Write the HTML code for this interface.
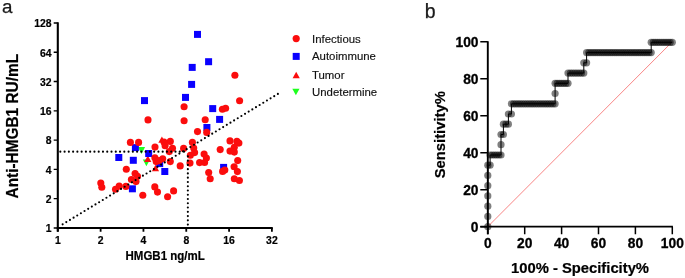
<!DOCTYPE html>
<html><head><meta charset="utf-8"><title>figure</title>
<style>
html,body{margin:0;padding:0;background:#fff;}
body{width:685px;height:278px;overflow:hidden;}
svg{display:block;font-family:"Liberation Sans",sans-serif;}
.b{font-weight:bold;fill:#000;}
</style></head><body>
<svg width="685" height="278" viewBox="0 0 685 278">
<rect width="685" height="278" fill="#fff"/>

<text x="1.9" y="13.2" font-size="18.8" fill="#1a1a1a" stroke="#1a1a1a" stroke-width="0.25">a</text>
<text x="424.7" y="17.5" font-size="19.5" fill="#1a1a1a" stroke="#1a1a1a" stroke-width="0.25">b</text>
<g fill="#1eff1e">
<path d="M137.9 147.1h7.2l-3.6 6.8z"/>
<path d="M142.8 159.4h7.2l-3.6 6.8z"/>
</g>
<g fill="#fb0d0d">
<path d="M161.9 136.4l3.6 6.4h-7.2z"/>
<path d="M147.8 155.5l3.6 6.4h-7.2z"/>
<path d="M155.5 164.8l3.6 6.4h-7.2z"/>
</g>
<g fill="#0a00ff">
<rect x="194.0" y="30.9" width="7.0" height="7.0"/>
<rect x="205.1" y="58.2" width="7.0" height="7.0"/>
<rect x="188.7" y="63.9" width="7.0" height="7.0"/>
<rect x="188.1" y="80.9" width="7.0" height="7.0"/>
<rect x="182.0" y="93.9" width="7.0" height="7.0"/>
<rect x="141.0" y="97.1" width="7.0" height="7.0"/>
<rect x="209.2" y="105.1" width="7.0" height="7.0"/>
<rect x="216.1" y="115.9" width="7.0" height="7.0"/>
<rect x="203.4" y="124.0" width="7.0" height="7.0"/>
<rect x="131.9" y="144.1" width="7.0" height="7.0"/>
<rect x="145.2" y="150.0" width="7.0" height="7.0"/>
<rect x="115.3" y="154.0" width="7.0" height="7.0"/>
<rect x="129.8" y="156.8" width="7.0" height="7.0"/>
<rect x="156.2" y="160.1" width="7.0" height="7.0"/>
<rect x="161.3" y="168.0" width="7.0" height="7.0"/>
<rect x="128.9" y="185.3" width="7.0" height="7.0"/>
<rect x="220.1" y="163.9" width="7.0" height="7.0"/>
</g>
<g fill="#fb0d0d">
<circle cx="234.9" cy="75.2" r="3.55"/>
<circle cx="239.6" cy="100.8" r="3.55"/>
<circle cx="184.1" cy="106.7" r="3.55"/>
<circle cx="148.0" cy="119.9" r="3.55"/>
<circle cx="184.1" cy="120.7" r="3.55"/>
<circle cx="205.2" cy="119.8" r="3.55"/>
<circle cx="222.4" cy="109.3" r="3.55"/>
<circle cx="225.6" cy="108.2" r="3.55"/>
<circle cx="197.5" cy="131.6" r="3.55"/>
<circle cx="206.7" cy="132.4" r="3.55"/>
<circle cx="130.4" cy="142.4" r="3.55"/>
<circle cx="138.6" cy="142.4" r="3.55"/>
<circle cx="155.0" cy="147.1" r="3.55"/>
<circle cx="170.3" cy="141.4" r="3.55"/>
<circle cx="164.0" cy="142.0" r="3.55"/>
<circle cx="165.1" cy="145.8" r="3.55"/>
<circle cx="172.5" cy="148.3" r="3.55"/>
<circle cx="169.3" cy="151.6" r="3.55"/>
<circle cx="183.6" cy="148.4" r="3.55"/>
<circle cx="192.4" cy="142.4" r="3.55"/>
<circle cx="193.7" cy="148.1" r="3.55"/>
<circle cx="194.6" cy="152.6" r="3.55"/>
<circle cx="190.4" cy="155.2" r="3.55"/>
<circle cx="204.1" cy="154.1" r="3.55"/>
<circle cx="206.4" cy="158.1" r="3.55"/>
<circle cx="199.6" cy="162.6" r="3.55"/>
<circle cx="204.6" cy="162.5" r="3.55"/>
<circle cx="190.0" cy="163.1" r="3.55"/>
<circle cx="220.2" cy="149.6" r="3.55"/>
<circle cx="230.0" cy="140.9" r="3.55"/>
<circle cx="236.9" cy="141.4" r="3.55"/>
<circle cx="238.9" cy="143.1" r="3.55"/>
<circle cx="234.3" cy="147.2" r="3.55"/>
<circle cx="230.0" cy="151.1" r="3.55"/>
<circle cx="234.3" cy="152.1" r="3.55"/>
<circle cx="237.7" cy="160.6" r="3.55"/>
<circle cx="234.1" cy="166.8" r="3.55"/>
<circle cx="208.7" cy="172.6" r="3.55"/>
<circle cx="210.2" cy="178.8" r="3.55"/>
<circle cx="224.8" cy="170.1" r="3.55"/>
<circle cx="222.6" cy="171.4" r="3.55"/>
<circle cx="237.4" cy="171.6" r="3.55"/>
<circle cx="234.3" cy="178.8" r="3.55"/>
<circle cx="239.4" cy="180.5" r="3.55"/>
<circle cx="154.9" cy="157.8" r="3.55"/>
<circle cx="162.7" cy="158.8" r="3.55"/>
<circle cx="156.2" cy="161.6" r="3.55"/>
<circle cx="159.2" cy="160.6" r="3.55"/>
<circle cx="170.3" cy="161.6" r="3.55"/>
<circle cx="180.2" cy="165.9" r="3.55"/>
<circle cx="126.3" cy="169.2" r="3.55"/>
<circle cx="135.1" cy="173.6" r="3.55"/>
<circle cx="137.5" cy="176.2" r="3.55"/>
<circle cx="131.4" cy="179.5" r="3.55"/>
<circle cx="136.0" cy="181.6" r="3.55"/>
<circle cx="125.9" cy="186.4" r="3.55"/>
<circle cx="142.8" cy="195.2" r="3.55"/>
<circle cx="154.8" cy="186.9" r="3.55"/>
<circle cx="157.5" cy="192.1" r="3.55"/>
<circle cx="173.6" cy="190.9" r="3.55"/>
<circle cx="167.6" cy="196.7" r="3.55"/>
<circle cx="100.8" cy="183.1" r="3.55"/>
<circle cx="101.8" cy="187.2" r="3.55"/>
<circle cx="119.2" cy="186.1" r="3.55"/>
<circle cx="115.5" cy="189.2" r="3.55"/>
</g>
<g stroke="#000" stroke-width="2.15" stroke-dasharray="0 4.265" stroke-linecap="round" fill="none">
<path d="M62.65 224.3L277.9 93.9"/>
<path d="M60.33 151.65H187.5"/>
<path d="M187.85 224.6V153"/>
</g>
<g stroke="#000" fill="none">
<path d="M57.8 22.3V231.64999999999998" stroke-width="2.1"/>
<path d="M56.75 227.95H272.79999999999995" stroke-width="2.1"/>
<path d="M53.699999999999996 227.95H57.8M53.699999999999996 198.67H57.8M53.699999999999996 169.39H57.8M53.699999999999996 140.11H57.8M53.699999999999996 110.83H57.8M53.699999999999996 81.55H57.8M53.699999999999996 52.27H57.8M53.699999999999996 22.99H57.8" stroke-width="1.4"/>
<path d="M57.80 227.95V231.64999999999998M100.62 227.95V231.64999999999998M143.44 227.95V231.64999999999998M186.26 227.95V231.64999999999998M229.08 227.95V231.64999999999998M271.90 227.95V231.64999999999998" stroke-width="1.8"/>
</g>
<g class="b" font-size="10.4" text-anchor="end" stroke="#000" stroke-width="0.2">
<text transform="translate(51.5 232.2) scale(1 1.04)">1</text>
<text transform="translate(51.5 203.0) scale(1 1.04)">2</text>
<text transform="translate(51.5 173.7) scale(1 1.04)">4</text>
<text transform="translate(51.5 144.4) scale(1 1.04)">8</text>
<text transform="translate(51.5 115.1) scale(1 1.04)">16</text>
<text transform="translate(51.5 85.8) scale(1 1.04)">32</text>
<text transform="translate(51.5 56.6) scale(1 1.04)">64</text>
<text transform="translate(51.5 27.3) scale(1 1.04)">128</text>
</g>
<g class="b" font-size="10.4" text-anchor="middle" stroke="#000" stroke-width="0.2">
<text transform="translate(57.8 243.8) scale(1 1.04)">1</text>
<text transform="translate(100.6 243.8) scale(1 1.04)">2</text>
<text transform="translate(143.4 243.8) scale(1 1.04)">4</text>
<text transform="translate(186.3 243.8) scale(1 1.04)">8</text>
<text transform="translate(229.1 243.8) scale(1 1.04)">16</text>
<text transform="translate(271.9 243.8) scale(1 1.04)">32</text>
</g>
<text class="b" font-size="11.5" text-anchor="middle" stroke="#000" stroke-width="0.2" transform="translate(165.1 260.4) scale(1 1.04)">HMGB1 ng/mL</text>
<text class="b" font-size="15.4" text-anchor="middle" stroke="#000" stroke-width="0.2" transform="translate(18.2 126.2) rotate(-90) scale(1 1.06)">Anti-HMGB1 RU/mL</text>
<circle cx="296.2" cy="38.6" r="3.6" fill="#fb0d0d"/>
<rect x="292.7" y="52.9" width="7" height="7" fill="#0a00ff"/>
<path d="M296.2 71.8l3.6 6.4h-7.2z" fill="#fb0d0d"/>
<path d="M292.3 88.8h7.2l-3.6 6.5z" fill="#1eff1e"/>
<g font-size="11.4" fill="#111" stroke="#111" stroke-width="0.15">
<text transform="translate(312 42.6) scale(1 1.02)">Infectious</text>
<text transform="translate(312 60.3) scale(1 1.02)">Autoimmune</text>
<text transform="translate(312 78.6) scale(1 1.02)">Tumor</text>
<text transform="translate(312 96.2) scale(1 1.02)">Undetermine</text>
</g>
<path d="M487.8 226.65L672.3 41.75" stroke="#f55050" stroke-width="0.7" fill="none"/>
<g fill="#000" fill-opacity="0.5">
<circle cx="487.8" cy="226.7" r="3.6"/>
<circle cx="487.8" cy="216.4" r="3.6"/>
<circle cx="487.8" cy="206.2" r="3.6"/>
<circle cx="487.8" cy="195.9" r="3.6"/>
<circle cx="487.8" cy="185.7" r="3.6"/>
<circle cx="487.8" cy="175.4" r="3.6"/>
<circle cx="487.8" cy="165.2" r="3.6"/>
<circle cx="490.1" cy="165.2" r="3.6"/>
<circle cx="490.1" cy="155.0" r="3.6"/>
<circle cx="492.3" cy="155.0" r="3.6"/>
<circle cx="494.5" cy="155.0" r="3.6"/>
<circle cx="496.6" cy="155.0" r="3.6"/>
<circle cx="498.8" cy="155.0" r="3.6"/>
<circle cx="501.0" cy="155.0" r="3.6"/>
<circle cx="501.0" cy="144.7" r="3.6"/>
<circle cx="501.0" cy="134.5" r="3.6"/>
<circle cx="503.4" cy="134.5" r="3.6"/>
<circle cx="503.4" cy="124.2" r="3.6"/>
<circle cx="505.9" cy="124.2" r="3.6"/>
<circle cx="508.4" cy="124.2" r="3.6"/>
<circle cx="508.4" cy="114.0" r="3.6"/>
<circle cx="511.4" cy="114.0" r="3.6"/>
<circle cx="511.4" cy="103.8" r="3.6"/>
<circle cx="513.6" cy="103.8" r="3.6"/>
<circle cx="515.8" cy="103.8" r="3.6"/>
<circle cx="518.0" cy="103.8" r="3.6"/>
<circle cx="520.1" cy="103.8" r="3.6"/>
<circle cx="522.3" cy="103.8" r="3.6"/>
<circle cx="524.5" cy="103.8" r="3.6"/>
<circle cx="526.7" cy="103.8" r="3.6"/>
<circle cx="528.9" cy="103.8" r="3.6"/>
<circle cx="531.1" cy="103.8" r="3.6"/>
<circle cx="533.2" cy="103.8" r="3.6"/>
<circle cx="535.4" cy="103.8" r="3.6"/>
<circle cx="537.6" cy="103.8" r="3.6"/>
<circle cx="539.8" cy="103.8" r="3.6"/>
<circle cx="542.0" cy="103.8" r="3.6"/>
<circle cx="544.2" cy="103.8" r="3.6"/>
<circle cx="546.4" cy="103.8" r="3.6"/>
<circle cx="548.5" cy="103.8" r="3.6"/>
<circle cx="550.7" cy="103.8" r="3.6"/>
<circle cx="552.9" cy="103.8" r="3.6"/>
<circle cx="555.1" cy="103.8" r="3.6"/>
<circle cx="555.1" cy="93.5" r="3.6"/>
<circle cx="555.1" cy="83.3" r="3.6"/>
<circle cx="557.2" cy="83.3" r="3.6"/>
<circle cx="559.4" cy="83.3" r="3.6"/>
<circle cx="561.5" cy="83.3" r="3.6"/>
<circle cx="563.7" cy="83.3" r="3.6"/>
<circle cx="565.9" cy="83.3" r="3.6"/>
<circle cx="568.0" cy="83.3" r="3.6"/>
<circle cx="568.0" cy="73.1" r="3.6"/>
<circle cx="570.3" cy="73.1" r="3.6"/>
<circle cx="572.5" cy="73.1" r="3.6"/>
<circle cx="574.8" cy="73.1" r="3.6"/>
<circle cx="577.0" cy="73.1" r="3.6"/>
<circle cx="579.3" cy="73.1" r="3.6"/>
<circle cx="581.5" cy="73.1" r="3.6"/>
<circle cx="583.8" cy="73.1" r="3.6"/>
<circle cx="583.8" cy="62.8" r="3.6"/>
<circle cx="586.6" cy="62.8" r="3.6"/>
<circle cx="586.6" cy="52.6" r="3.6"/>
<circle cx="588.8" cy="52.6" r="3.6"/>
<circle cx="590.9" cy="52.6" r="3.6"/>
<circle cx="593.1" cy="52.6" r="3.6"/>
<circle cx="595.2" cy="52.6" r="3.6"/>
<circle cx="597.4" cy="52.6" r="3.6"/>
<circle cx="599.5" cy="52.6" r="3.6"/>
<circle cx="601.7" cy="52.6" r="3.6"/>
<circle cx="603.8" cy="52.6" r="3.6"/>
<circle cx="606.0" cy="52.6" r="3.6"/>
<circle cx="608.1" cy="52.6" r="3.6"/>
<circle cx="610.3" cy="52.6" r="3.6"/>
<circle cx="612.4" cy="52.6" r="3.6"/>
<circle cx="614.6" cy="52.6" r="3.6"/>
<circle cx="616.7" cy="52.6" r="3.6"/>
<circle cx="618.9" cy="52.6" r="3.6"/>
<circle cx="621.1" cy="52.6" r="3.6"/>
<circle cx="623.2" cy="52.6" r="3.6"/>
<circle cx="625.4" cy="52.6" r="3.6"/>
<circle cx="627.5" cy="52.6" r="3.6"/>
<circle cx="629.7" cy="52.6" r="3.6"/>
<circle cx="631.8" cy="52.6" r="3.6"/>
<circle cx="634.0" cy="52.6" r="3.6"/>
<circle cx="636.1" cy="52.6" r="3.6"/>
<circle cx="638.3" cy="52.6" r="3.6"/>
<circle cx="640.4" cy="52.6" r="3.6"/>
<circle cx="642.6" cy="52.6" r="3.6"/>
<circle cx="644.7" cy="52.6" r="3.6"/>
<circle cx="646.9" cy="52.6" r="3.6"/>
<circle cx="649.0" cy="52.6" r="3.6"/>
<circle cx="651.2" cy="52.6" r="3.6"/>
<circle cx="651.2" cy="42.3" r="3.6"/>
<circle cx="653.3" cy="42.3" r="3.6"/>
<circle cx="655.4" cy="42.3" r="3.6"/>
<circle cx="657.5" cy="42.3" r="3.6"/>
<circle cx="659.6" cy="42.3" r="3.6"/>
<circle cx="661.8" cy="42.3" r="3.6"/>
<circle cx="663.9" cy="42.3" r="3.6"/>
<circle cx="666.0" cy="42.3" r="3.6"/>
<circle cx="668.1" cy="42.3" r="3.6"/>
<circle cx="670.2" cy="42.3" r="3.6"/>
<circle cx="672.3" cy="42.3" r="3.6"/>
</g>
<path d="M487.8 226.7L487.8 165.2L490.1 165.2L490.1 155.0L501.0 155.0L501.0 134.5L503.4 134.5L503.4 124.2L508.4 124.2L508.4 114.0L511.4 114.0L511.4 103.8L555.1 103.8L555.1 83.3L568.0 83.3L568.0 73.1L583.8 73.1L583.8 62.8L586.6 62.8L586.6 52.6L651.2 52.6L651.2 42.3L672.3 42.3" stroke="#000" stroke-width="1" fill="none"/>
<g stroke="#000" fill="none">
<path d="M487.8 41.15V234.35M480.3 226.65H672.9" stroke-width="1.9"/>
<path d="M480.3 226.65H487.8M487.80 226.65V234.35M480.3 189.67H487.8M524.70 226.65V234.35M480.3 152.69H487.8M561.60 226.65V234.35M480.3 115.71H487.8M598.50 226.65V234.35M480.3 78.73H487.8M635.40 226.65V234.35M480.3 41.75H487.8M672.30 226.65V234.35" stroke-width="1.5"/>
</g>
<g class="b" font-size="13.8" text-anchor="end" stroke="#000" stroke-width="0.3">
<text transform="translate(478.5 232.0) scale(1 1.04)">0</text>
<text transform="translate(478.5 195.0) scale(1 1.04)">20</text>
<text transform="translate(478.5 158.0) scale(1 1.04)">40</text>
<text transform="translate(478.5 121.0) scale(1 1.04)">60</text>
<text transform="translate(478.5 84.0) scale(1 1.04)">80</text>
<text transform="translate(478.5 47.0) scale(1 1.04)">100</text>
</g>
<g class="b" font-size="13.8" text-anchor="middle" stroke="#000" stroke-width="0.3">
<text transform="translate(487.8 248.4) scale(1 1.04)">0</text>
<text transform="translate(524.7 248.4) scale(1 1.04)">20</text>
<text transform="translate(561.6 248.4) scale(1 1.04)">40</text>
<text transform="translate(598.5 248.4) scale(1 1.04)">60</text>
<text transform="translate(635.4 248.4) scale(1 1.04)">80</text>
<text transform="translate(672.3 248.4) scale(1 1.04)">100</text>
</g>
<text class="b" font-size="14.8" text-anchor="middle" stroke="#000" stroke-width="0.2" transform="translate(580.0 272.7) scale(1 1.04)">100% - Specificity%</text>
<text class="b" font-size="14.8" text-anchor="middle" stroke="#000" stroke-width="0.2" transform="translate(445.3 134.7) rotate(-90) scale(1 1.05)">Sensitivity%</text>
</svg></body></html>
